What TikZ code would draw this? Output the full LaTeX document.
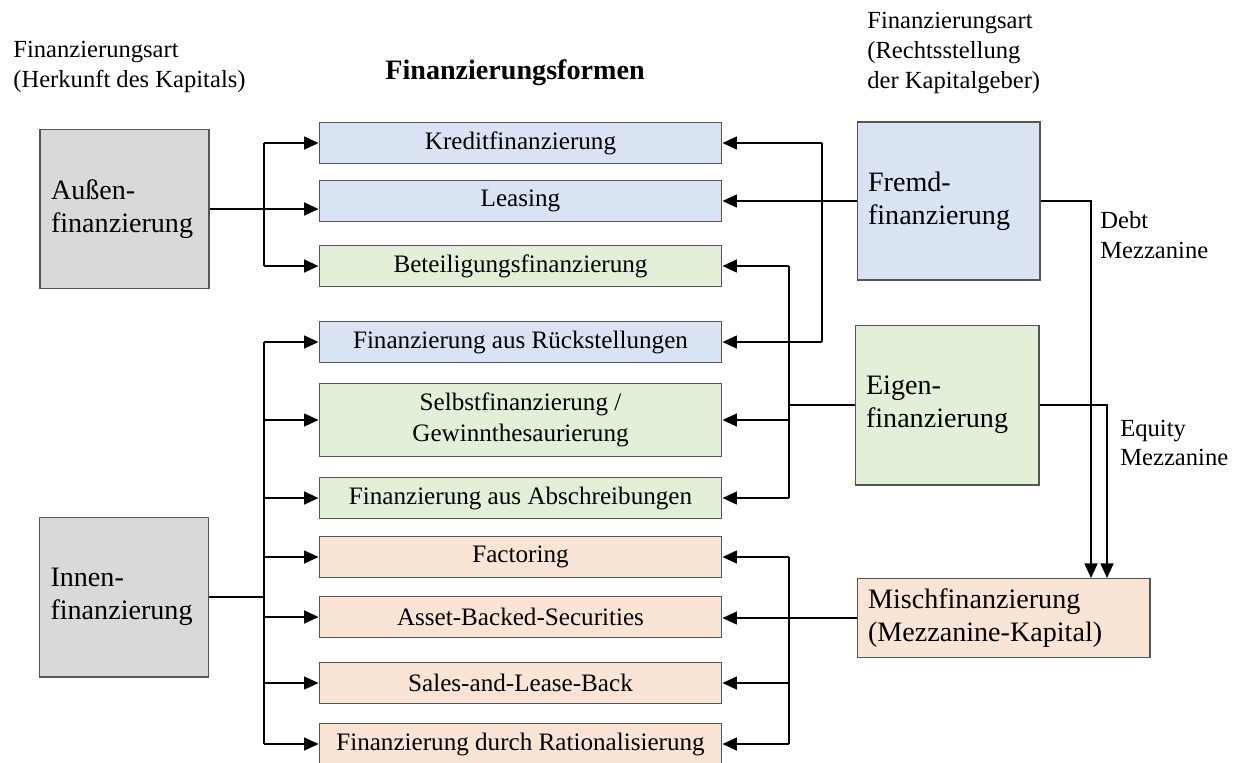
\documentclass[tikz,border=0pt]{standalone}
\usepackage{fontspec}
\setmainfont{Liberation Serif}
\usetikzlibrary{arrows.meta}
\tikzset{>={Triangle[length=2.9mm,width=2.6mm]}}
\definecolor{artgray}{RGB}{217,217,217}
\definecolor{formblue}{RGB}{218,227,243}
\definecolor{formgreen}{RGB}{226,240,217}
\definecolor{formorange}{RGB}{249,228,214}
\definecolor{boxline}{RGB}{85,85,85}
\tikzstyle{formbox}=[draw=boxline,line width=0.6pt,minimum width=8.06cm,minimum height=0.82cm,inner sep=0pt,align=center,font=\fontsize{14.3}{17.4}\selectfont]
\tikzstyle{artbox}=[draw=boxline,line width=0.6pt,inner xsep=0.22cm,inner ysep=0pt,align=left,font=\fontsize{16}{19}\selectfont]
\tikzstyle{headtext}=[inner sep=0pt,anchor=west,align=left,font=\fontsize{14}{17}\selectfont]
\tikzstyle{conn}=[draw=black,line width=0.9pt]

\begin{document}
\begin{tikzpicture}[x=0.02cm,y=-0.02cm]
    \useasboundingbox (0,0) rectangle (1240,762);

    % Headings
    \node[headtext] (hleft) at (13,67) {Finanzierungsart\\(Herkunft des Kapitals)};
    \node[inner sep=0pt,font=\fontsize{16}{19}\selectfont\bfseries] (hmid) at (515,73) {Finanzierungsformen};
    \node[headtext] (hright) at (867,53) {Finanzierungsart\\(Rechtsstellung\\der Kapitalgeber)};

    % Herkunft des Kapitals
    \node[artbox,fill=artgray,text width=2.94cm,minimum height=3.18cm] (aussen) at (124.5,209) {Außen-\\finanzierung};
    \node[artbox,fill=artgray,text width=2.94cm,minimum height=3.2cm] (innen) at (124,597) {Innen-\\finanzierung};

    % Finanzierungsformen
    \node[formbox,fill=formblue] (kredit) at (520.5,143) {Kreditfinanzierung};
    \node[formbox,fill=formblue] (leasing) at (520.5,201) {Leasing};
    \node[formbox,fill=formgreen] (beteil) at (520.5,266) {Beteiligungsfinanzierung};
    \node[formbox,fill=formblue] (rueck) at (520.5,342) {Finanzierung aus Rückstellungen};
    \node[formbox,fill=formgreen,minimum height=1.46cm] (selbst) at (520.5,420) {Selbstfinanzierung /\\Gewinnthesaurierung};
    \node[formbox,fill=formgreen] (abschr) at (520.5,498) {Finanzierung aus Abschreibungen};
    \node[formbox,fill=formorange] (factor) at (520.5,557) {Factoring};
    \node[formbox,fill=formorange] (asset) at (520.5,617) {Asset-Backed-Securities};
    \node[formbox,fill=formorange] (sales) at (520.5,683) {Sales-and-Lease-Back};
    \node[formbox,fill=formorange] (ratio) at (520.5,744) {Finanzierung durch Rationalisierung};

    % Rechtsstellung der Kapitalgeber
    \node[artbox,fill=formblue,text width=3.22cm,minimum height=3.16cm] (fremd) at (948.5,201) {Fremd-\\finanzierung};
    \node[artbox,fill=formgreen,text width=3.24cm,minimum height=3.2cm] (eigen) at (947,405) {Eigen-\\finanzierung};
    \node[artbox,fill=formorange,text width=5.42cm,minimum height=1.58cm] (misch) at (1003.5,618) {Mischfinanzierung\\(Mezzanine-Kapital)};

    \node[headtext] (debt) at (1100,235) {Debt\\Mezzanine};
    \node[headtext] (equity) at (1120,443) {Equity\\Mezzanine};

    % trunk positions
    \coordinate (xa) at (264,0);
    \coordinate (xe) at (789,0);
    \coordinate (xf) at (822,0);
    \coordinate (xd) at (1091,0);
    \coordinate (xq) at (1107,0);

    % Aussenfinanzierung
    \draw[conn,->] (aussen.east) -- (aussen.east -| leasing.west);
    \draw[conn] (xa |- kredit) -- (xa |- beteil);
    \draw[conn,->] (xa |- kredit) -- (kredit.west);
    \draw[conn,->] (xa |- beteil) -- (beteil.west);

    % Innenfinanzierung
    \draw[conn] (innen.east) -- (xa |- innen);
    \draw[conn] (xa |- rueck) -- (xa |- ratio);
    \draw[conn,->] (xa |- rueck) -- (rueck.west);
    \draw[conn,->] (xa |- selbst) -- (selbst.west);
    \draw[conn,->] (xa |- abschr) -- (abschr.west);
    \draw[conn,->] (xa |- factor) -- (factor.west);
    \draw[conn,->] (xa |- asset) -- (asset.west);
    \draw[conn,->] (xa |- sales) -- (sales.west);
    \draw[conn,->] (xa |- ratio) -- (ratio.west);

    % Fremdfinanzierung
    \draw[conn,->] (fremd.west) -- (fremd.west -| leasing.east);
    \draw[conn] (xf |- kredit) -- (xf |- rueck);
    \draw[conn,->] (xf |- kredit) -- (kredit.east);
    \draw[conn,->] (xf |- rueck) -- (rueck.east);
    \draw[conn,->] (fremd.east) -| (xd |- misch.north);

    % Eigenfinanzierung
    \draw[conn] (eigen.west) -- (xe |- eigen);
    \draw[conn] (xe |- beteil) -- (xe |- abschr);
    \draw[conn,->] (xe |- beteil) -- (beteil.east);
    \draw[conn,->] (xe |- selbst) -- (selbst.east);
    \draw[conn,->] (xe |- abschr) -- (abschr.east);
    \draw[conn,->] (eigen.east) -| (xq |- misch.north);

    % Mischfinanzierung
    \draw[conn,->] (misch.west) -- (misch.west -| asset.east);
    \draw[conn] (xe |- factor) -- (xe |- ratio);
    \draw[conn,->] (xe |- factor) -- (factor.east);
    \draw[conn,->] (xe |- sales) -- (sales.east);
    \draw[conn,->] (xe |- ratio) -- (ratio.east);
\end{tikzpicture}
\end{document}
